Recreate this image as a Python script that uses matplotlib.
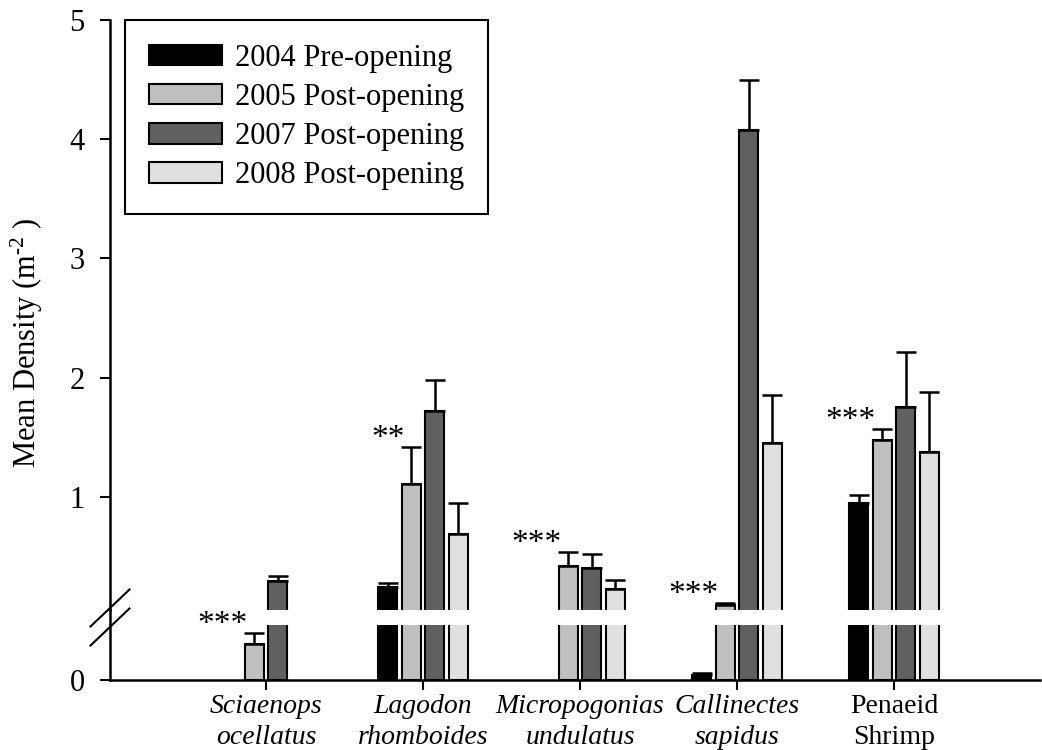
import numpy as np
import matplotlib
matplotlib.use("Agg")
import matplotlib.pyplot as plt
from matplotlib.lines import Line2D
from matplotlib.patches import Patch

plt.rcParams["font.family"] = ["Liberation Serif", "DejaVu Serif"]
plt.rcParams["mathtext.fontset"] = "custom"
plt.rcParams["mathtext.rm"] = "Liberation Serif"
plt.rcParams["mathtext.it"] = "Liberation Serif:italic"

# ---- data -------------------------------------------------------------
species = ["Sciaenops\nocellatus", "Lagodon\nrhomboides", "Micropogonias\nundulatus",
           "Callinectes\nsapidus", "Penaeid\nShrimp"]
italic_label = [True, True, True, True, False]
years = ["2004 Pre-opening", "2005 Post-opening", "2007 Post-opening", "2008 Post-opening"]
colors = ["#000000", "#c0c0c0", "#606060", "#e0e0e0"]

nan = np.nan
d2004 = [nan, 0.24, nan, 0.005, 0.945]
e2004 = [nan, 0.04, nan, 0.001, 0.07]
d2005 = [0.033, 1.11, 0.42, 0.095, 1.475]
e2005 = [0.010, 0.31, 0.12, 0.010, 0.09]
d2007 = [0.29, 1.72, 0.40, 4.08, 1.755]
e2007 = [0.045, 0.26, 0.12, 0.42, 0.46]
d2008 = [nan, 0.69, 0.23, 1.45, 1.375]
e2008 = [nan, 0.26, 0.075, 0.40, 0.50]
significance = ["***", "**", "***", "***", "***"]

means = [d2004, d2005, d2007, d2008]
errors = [e2004, e2005, e2007, e2008]

# ---- layout (broken y axis: two stacked axes) -------------------------
W, H = 1042, 750
fig = plt.figure(figsize=(W / 100, H / 100), dpi=100)


def fx(px):
    return px / W


def fy(py):
    return 1 - py / H


x_left, x_right = 110, 1040
hi_top, hi_bot = 20, 610
lo_top, lo_bot = 625, 680
break_val = 0.05

ax_hi = fig.add_axes([fx(x_left), fy(hi_bot), (x_right - x_left) / W, (hi_bot - hi_top) / H])
ax_lo = fig.add_axes([fx(x_left), fy(lo_bot), (x_right - x_left) / W, (lo_bot - lo_top) / H])

xpos = np.arange(1, len(species) + 1)
pitch = 0.15
bar_w = 0.122
offsets = (np.arange(len(years)) - 1.5) * pitch

for ax, upper in ((ax_hi, True), (ax_lo, False)):
    for k in range(len(years)):
        vals = np.array(means[k], dtype=float)
        errs = np.array(errors[k], dtype=float)
        xs = xpos + offsets[k]
        ax.bar(xs, vals, width=bar_w, color=colors[k], edgecolor="black",
               linewidth=1.5, zorder=2)
        # error bars only on the segment that holds the bar top
        keep = vals >= break_val if upper else vals < break_val
        keep &= ~np.isnan(vals)
        if keep.any():
            ax.errorbar(xs[keep], vals[keep],
                        yerr=[np.zeros(keep.sum()), errs[keep]], fmt="none",
                        ecolor="black", elinewidth=1.8, capsize=7.2,
                        capthick=1.8, zorder=3)
    ax.set_xlim(0.006, 5.93)
    for side in ("top", "right"):
        ax.spines[side].set_visible(False)
    for side in ("left", "bottom"):
        ax.spines[side].set_linewidth(1.8)

ax_hi.set_ylim(break_val, 5)
ax_lo.set_ylim(0, break_val)
ax_hi.spines["bottom"].set_visible(False)
ax_hi.set_xticks([])
ax_hi.set_yticks([1, 2, 3, 4, 5])
ax_lo.set_yticks([0])
for ax in (ax_hi, ax_lo):
    ax.tick_params(axis="y", direction="out", length=7.2, width=1.5,
                   labelsize=22, pad=11)
ax_lo.set_xticks(xpos)
ax_lo.set_xticklabels(species, fontsize=20, linespacing=1.3)
for lab, it in zip(ax_lo.get_xticklabels(), italic_label):
    lab.set_fontstyle("italic" if it else "normal")
ax_lo.tick_params(axis="x", direction="out", length=7.2, width=1.5, pad=3)

# continuous left spine across the gap
fig.add_artist(Line2D([fx(x_left), fx(x_left)], [fy(hi_bot), fy(lo_top)],
                      transform=fig.transFigure, color="black", lw=1.8))
# break marks
for yc in (608, 627):
    fig.add_artist(Line2D([fx(x_left - 19.5), fx(x_left + 19.5)],
                          [fy(yc + 18.5), fy(yc - 18.5)],
                          transform=fig.transFigure, color="black", lw=1.5))

# significance markers above the 2005 bars
for i, s in enumerate(significance):
    top = d2005[i] + e2005[i]
    ax = ax_lo if top < break_val else ax_hi
    ax.annotate(s, xy=(xpos[i] + offsets[1] - bar_w / 2 + 0.02, top),
                xytext=(0, 6), textcoords="offset points", ha="right",
                va="center", fontsize=24, annotation_clip=False, zorder=4)

# y label
fig.text(fx(27), fy(343), "Mean Density (m$^{\\text{-2}}$ )", rotation=90,
         ha="center", va="center", fontsize=22)

# legend
handles = [Patch(facecolor=c, edgecolor="black", linewidth=1.5) for c in colors]
leg = fig.legend(handles, years, loc="upper left",
                 bbox_to_anchor=(fx(125), fy(20)), bbox_transform=fig.transFigure,
                 borderaxespad=0, fontsize=22, handlelength=2.4, handleheight=0.66,
                 handletextpad=0.42, labelspacing=0.33, borderpad=0.78,
                 fancybox=False, framealpha=1, edgecolor="black")
leg.get_frame().set_linewidth(1.5)

fig.savefig("out.png", dpi=100)
